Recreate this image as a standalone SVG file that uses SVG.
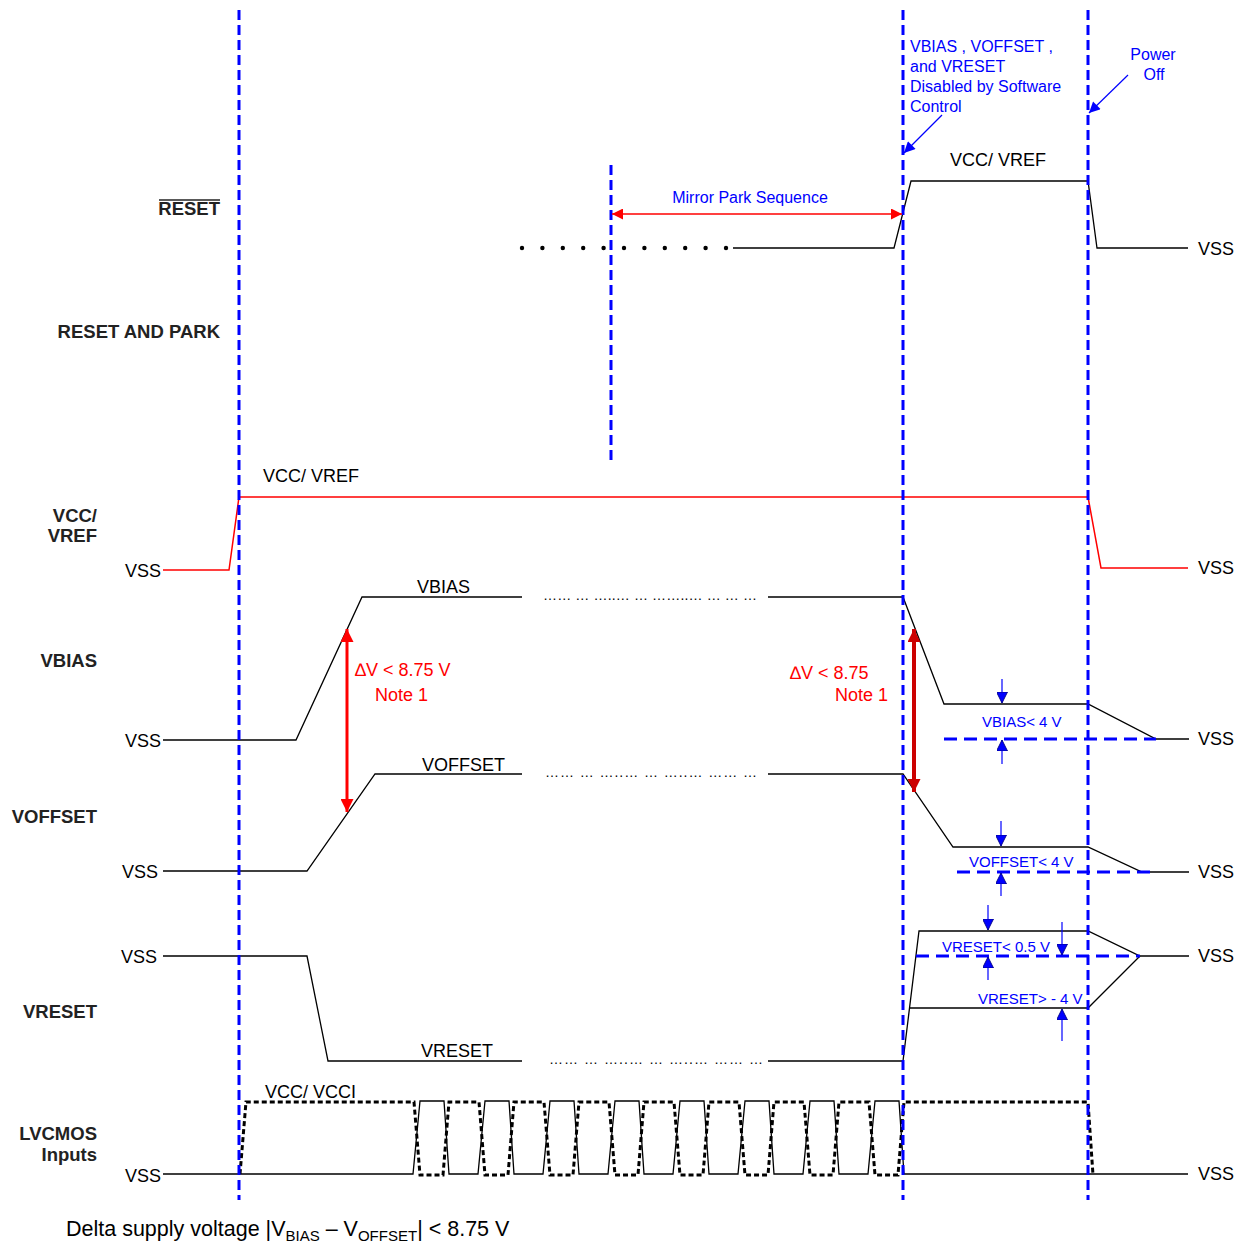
<svg xmlns="http://www.w3.org/2000/svg" width="1238" height="1243" viewBox="0 0 1238 1243">
<style>
  text { font-family: "Liberation Sans", Arial, sans-serif; }
  .lbl { font-size: 18.5px; font-weight: bold; fill: #222; text-anchor: end; }
  .sig { font-size: 18px; fill: #000; }
  .vss { font-size: 18px; fill: #000; }
  .blue { font-size: 16px; fill: #0000ff; }
  .blues { font-size: 15px; fill: #0000ff; }
  .red { font-size: 18px; fill: #ff0000; }
  .dots { font-size: 14px; fill: #000; }
  .w { fill: none; stroke: #000; stroke-width: 1.3; }
  .wr { fill: none; stroke: #ff0000; stroke-width: 1.5; }
  .vdash { fill: none; stroke: #0000ff; stroke-width: 3; stroke-dasharray: 10 5; }
  .hdash { fill: none; stroke: #0000ff; stroke-width: 3; stroke-dasharray: 13 7; }
  .ddash { fill: none; stroke: #000; stroke-width: 3; stroke-dasharray: 5 3; }
  .barr { stroke: #0000ff; stroke-width: 1.2; marker-end: url(#blueTip); }
</style>
<defs>
  <marker id="redH" viewBox="0 0 10 10" refX="10" refY="5" markerWidth="18" markerHeight="11" markerUnits="userSpaceOnUse" orient="auto-start-reverse">
    <path d="M0,0 L10,5 L0,10 z" fill="#ff0000"/>
  </marker>
  <marker id="redV" viewBox="0 0 10 10" refX="10" refY="5" markerWidth="14" markerHeight="13" markerUnits="userSpaceOnUse" orient="auto-start-reverse">
    <path d="M0,0 L10,5 L0,10 z" fill="#ff0000"/>
  </marker>
  <marker id="redD" viewBox="0 0 10 10" refX="10" refY="5" markerWidth="14" markerHeight="13" markerUnits="userSpaceOnUse" orient="auto-start-reverse">
    <path d="M0,0 L10,5 L0,10 z" fill="#cc0000"/>
  </marker>
  <marker id="blueTip" viewBox="0 0 10 10" refX="10" refY="5" markerWidth="11" markerHeight="11" markerUnits="userSpaceOnUse" orient="auto">
    <path d="M0,0 L10,5 L0,10 z" fill="#0000ff" stroke="#000080" stroke-width="0.8"/>
  </marker>
  <marker id="blueCall" viewBox="0 0 10 10" refX="10" refY="5" markerWidth="15" markerHeight="11" markerUnits="userSpaceOnUse" orient="auto">
    <path d="M0,0 L10,5 L0,10 z" fill="#0000ff"/>
  </marker>
</defs>

<!-- Row labels -->
<g id="labels">
  <text class="lbl" x="220" y="215">RESET</text>
  <line x1="159" y1="200" x2="220" y2="200" stroke="#222" stroke-width="1.3"/>
  <text class="lbl" x="220" y="338">RESET AND PARK</text>
  <text class="lbl" x="97" y="522">VCC/</text>
  <text class="lbl" x="97" y="542">VREF</text>
  <text class="lbl" x="97" y="667">VBIAS</text>
  <text class="lbl" x="97" y="823">VOFFSET</text>
  <text class="lbl" x="97" y="1018">VRESET</text>
  <text class="lbl" x="97" y="1140">LVCMOS</text>
  <text class="lbl" x="97" y="1161">Inputs</text>
</g>

<!-- RESET signal -->
<g id="reset">
  <g fill="#000">
    <circle cx="522" cy="248" r="2.2"/><circle cx="542.4" cy="248" r="2.2"/><circle cx="562.8" cy="248" r="2.2"/>
    <circle cx="583.2" cy="248" r="2.2"/><circle cx="603.6" cy="248" r="2.2"/><circle cx="624" cy="248" r="2.2"/>
    <circle cx="644.4" cy="248" r="2.2"/><circle cx="664.8" cy="248" r="2.2"/><circle cx="685.2" cy="248" r="2.2"/>
    <circle cx="705.6" cy="248" r="2.2"/><circle cx="726" cy="248" r="2.2"/>
  </g>
  <path class="w" d="M733,248 L894,248 L911,181 L1088,181 L1097,248 L1188,248"/>
  <text class="sig" x="950" y="166">VCC/ VREF</text>
  <text class="vss" x="1198" y="255">VSS</text>
</g>

<!-- Mirror Park Sequence -->
<g id="mirror-park">
  <text class="blue" x="750" y="203" text-anchor="middle">Mirror Park Sequence</text>
</g>

<!-- VCC / VREF -->
<g id="vcc-vref">
  <text class="vss" x="125" y="577">VSS</text>
  <path class="wr" d="M163,570 L229,570 L239,497 L1088,497 L1101,568 L1188,568"/>
  <text class="sig" x="263" y="482">VCC/ VREF</text>
  <text class="vss" x="1198" y="574">VSS</text>
</g>

<!-- VBIAS -->
<g id="vbias">
  <text class="vss" x="125" y="747">VSS</text>
  <path class="w" d="M163,740 L296,740 L362,597 L522,597"/>
  <text class="dots" x="543" y="600" textLength="214" lengthAdjust="spacing">…… … …..… … ……..… … … …</text>
  <path class="w" d="M768,597 L903,597 L944,704 L1088,704 L1156,739 L1189,739"/>
  <text class="sig" x="417" y="593">VBIAS</text>
  <text class="vss" x="1198" y="745">VSS</text>
  <path class="hdash" d="M944,739 L1156,739"/>
  <text class="blues" x="982" y="727">VBIAS&lt; 4 V</text>
</g>

<!-- VOFFSET -->
<g id="voffset">
  <text class="vss" x="122" y="878">VSS</text>
  <path class="w" d="M163,871 L307,871 L375,774 L522,774"/>
  <text class="dots" x="545" y="777" textLength="212" lengthAdjust="spacing">…… … …..… … …..… …… …</text>
  <path class="w" d="M768,774 L903,774 L953,847 L1088,847 L1142,872 L1189,872"/>
  <text class="sig" x="422" y="771">VOFFSET</text>
  <text class="vss" x="1198" y="878">VSS</text>
  <path class="hdash" d="M957,872 L1153,872"/>
  <text class="blues" x="969" y="867">VOFFSET&lt; 4 V</text>
</g>

<!-- VRESET -->
<g id="vreset">
  <text class="vss" x="121" y="963">VSS</text>
  <path class="w" d="M163,956 L307,956 L328,1061 L522,1061"/>
  <text class="dots" x="549" y="1064" textLength="214" lengthAdjust="spacing">…… … …..… … …..… …… …</text>
  <path class="w" d="M768,1061 L903,1061 L919,931 L1088,931 L1140,956 L1189,956"/>
  <path class="w" d="M909.5,1008 L1088,1008 L1140,956"/>
  <text class="sig" x="421" y="1057">VRESET</text>
  <text class="vss" x="1198" y="962">VSS</text>
  <path class="hdash" d="M916,956 L1140,956"/>
  <text class="blues" x="942" y="952">VRESET&lt; 0.5 V</text>
  <text class="blues" x="978" y="1004">VRESET&gt; - 4 V</text>
</g>

<!-- LVCMOS inputs -->
<g id="lvcmos">
  <text class="vss" x="125" y="1182">VSS</text>
  <path class="w" d="M163,1174 L413,1174 L420,1101 L444,1101 L449,1174 L478,1174 L485,1101 L509,1101 L514,1174 L543,1174 L550,1101 L574,1101 L579,1174 L608,1174 L615,1101 L639,1101 L644,1174 L673,1174 L680,1101 L704,1101 L709,1174 L738,1174 L745,1101 L769,1101 L774,1174 L803,1174 L810,1101 L834,1101 L839,1174 L868,1174 L875,1101 L899,1101 L904,1174 L1188,1174"/>
  <path class="ddash" d="M240,1174 L246,1102 L414,1102 L420,1175 L443,1175 L449,1102 L479,1102 L485,1175 L508,1175 L514,1102 L544,1102 L550,1175 L573,1175 L579,1102 L609,1102 L615,1175 L638,1175 L644,1102 L674,1102 L680,1175 L703,1175 L709,1102 L739,1102 L745,1175 L768,1175 L774,1102 L804,1102 L810,1175 L833,1175 L839,1102 L869,1102 L875,1175 L898,1175 L904,1102 L1088,1102 L1093,1175"/>
  <text class="sig" x="265" y="1098">VCC/ VCCI</text>
  <text class="vss" x="1198" y="1180">VSS</text>
</g>

<!-- Notes -->
<g id="notes">
  <text class="blue" x="910" y="52">VBIAS , VOFFSET ,</text>
  <text class="blue" x="910" y="72">and VRESET</text>
  <text class="blue" x="910" y="92">Disabled by Software</text>
  <text class="blue" x="910" y="112">Control</text>
  <text class="blue" x="1153" y="60" text-anchor="middle">Power</text>
  <text class="blue" x="1154" y="80" text-anchor="middle">Off</text>
  <text class="red" x="355" y="676">∆V &lt; 8.75 V</text>
  <text class="red" x="375" y="701">Note 1</text>
  <text class="red" x="790" y="679">∆V  &lt; 8.75</text>
  <text class="red" x="888" y="701" text-anchor="end">Note 1</text>
  <text x="66" y="1236" font-size="21.5" fill="#000">Delta supply voltage |V<tspan font-size="15" dy="5">BIAS</tspan><tspan dy="-5"> – V</tspan><tspan font-size="15" dy="5">OFFSET</tspan><tspan dy="-5">| &lt; 8.75 V</tspan></text>
</g>

<!-- Connectors: markers, arrows, guides -->
<g id="connectors">
  <path class="vdash" d="M239,10 L239,1200"/>
  <path class="vdash" d="M611,165 L611,462"/>
  <path class="vdash" d="M903,10 L903,1200"/>
  <path class="vdash" d="M1088,10 L1088,1200"/>
  <line x1="612" y1="214" x2="902" y2="214" stroke="#ff0000" stroke-width="1.5" marker-start="url(#redH)" marker-end="url(#redH)"/>
  <line x1="347" y1="629" x2="347" y2="812" stroke="#ff0000" stroke-width="3" marker-start="url(#redV)" marker-end="url(#redV)"/>
  <line x1="914" y1="629" x2="914" y2="792" stroke="#cc0000" stroke-width="4" marker-start="url(#redD)" marker-end="url(#redD)"/>
  <line x1="942" y1="115" x2="904" y2="153" stroke="#0000ff" stroke-width="1.2" marker-end="url(#blueCall)"/>
  <line x1="1128" y1="75" x2="1089" y2="113" stroke="#0000ff" stroke-width="1.2" marker-end="url(#blueCall)"/>
  <line class="barr" x1="1002" y1="679" x2="1002" y2="703"/>
  <line class="barr" x1="1002" y1="764" x2="1002" y2="740"/>
  <line class="barr" x1="1001" y1="821" x2="1001" y2="846"/>
  <line class="barr" x1="1001" y1="896" x2="1001" y2="873"/>
  <line class="barr" x1="988" y1="905" x2="988" y2="930"/>
  <line class="barr" x1="988" y1="980" x2="988" y2="957"/>
  <line class="barr" x1="1062" y1="922" x2="1062" y2="955"/>
  <line class="barr" x1="1062" y1="1041" x2="1062" y2="1009"/>
</g>
</svg>
